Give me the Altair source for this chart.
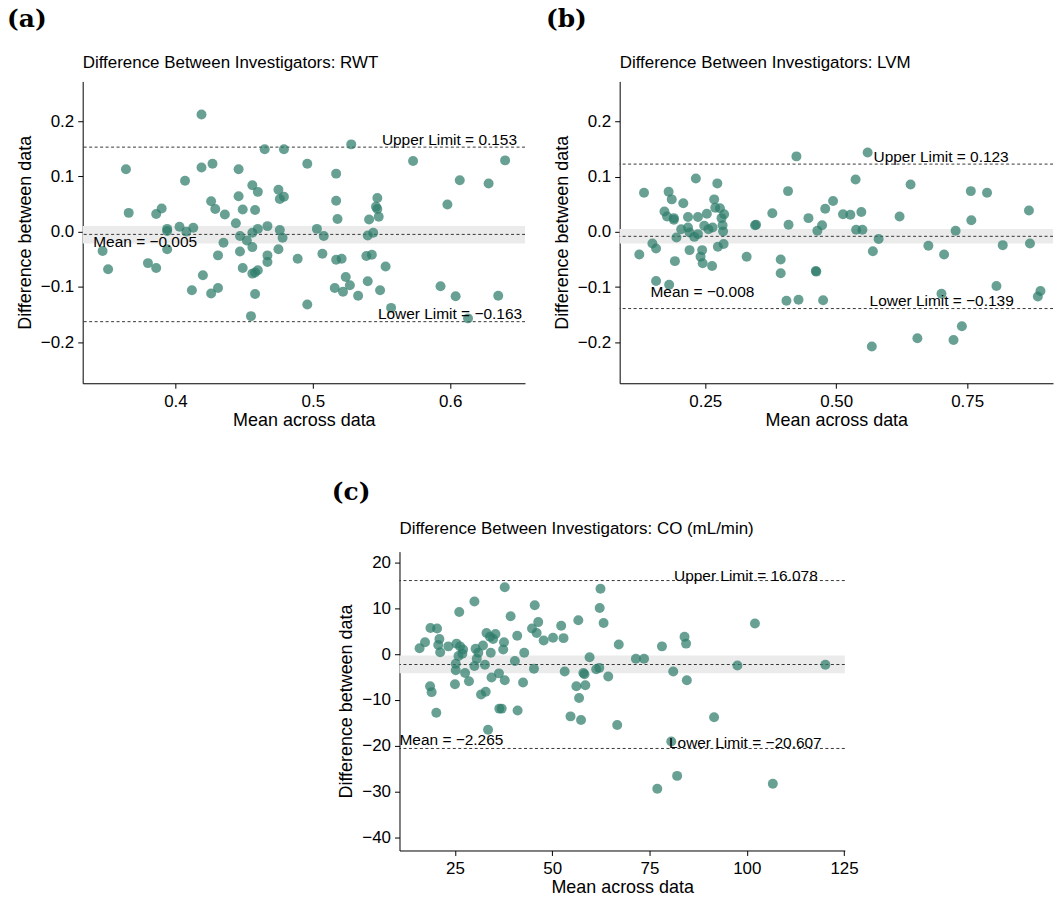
import altair as alt
import pandas as pd

# ---------------- Panel (a): RWT ----------------
a_mean = [0.419,0.465,0.479,0.528,0.573,0.640,0.364,0.419,0.427,0.446,
          0.496,0.517,0.407,0.607,0.628,0.456,0.460,0.475,0.479,0.476,
          0.446,0.426,0.517,0.547,0.598,0.366,0.386,0.390,0.429,0.436,
          0.449,0.458,0.546,0.547,0.548,0.518,0.541,0.444,0.394,0.394,
          0.403,0.413,0.408,0.467,0.460,0.456,0.476,0.478,0.503,0.508,
          0.540,0.544,0.447,0.452,0.435,0.394,0.347,0.351,0.456,0.447,
          0.475,0.431,0.467,0.467,0.489,0.507,0.517,0.521,0.539,0.543,
          0.553,0.380,0.386,0.449,0.456,0.458,0.460,0.420,0.412,0.426,
          0.431,0.458,0.455,0.496,0.524,0.527,0.516,0.522,0.533,0.540,
          0.549,0.557,0.593,0.604,0.613,0.635]
a_diff = [0.212,0.149,0.149,0.158,0.128,0.129,0.113,0.116,0.123,0.113,
          0.123,0.105,0.092,0.093,0.087,0.084,0.072,0.076,0.063,0.059,
          0.064,0.055,0.056,0.061,0.049,0.034,0.032,0.042,0.041,0.031,
          0.040,0.039,0.045,0.041,0.027,0.023,0.022,0.015,0.005,0.001,
          0.009,0.007,0.000,0.010,0.005,-0.002,0.003,-0.011,0.005,-0.008,
          -0.007,-0.002,-0.008,-0.016,-0.020,-0.032,-0.035,-0.068,-0.028,-0.036,
          -0.032,-0.043,-0.043,-0.055,-0.049,-0.040,-0.051,-0.049,-0.044,-0.042,
          -0.063,-0.057,-0.066,-0.066,-0.076,-0.074,-0.070,-0.079,-0.106,-0.112,
          -0.102,-0.113,-0.153,-0.132,-0.082,-0.097,-0.102,-0.109,-0.116,-0.090,
          -0.106,-0.138,-0.099,-0.117,-0.157,-0.116]
a_stats = [-0.005, 0.153, -0.163]          # mean, upper, lower
a_band = [-0.0217, 0.0102]                 # CI of mean
a_labels = ["Upper Limit = 0.153", "Lower Limit = \u22120.163"]
a_label_x = [0.5503, 0.5474]
a_mean_label = "Mean = \u22120.005"
a_mean_label_pos = [0.3402, -0.0271]

# ---------------- Panel (b): LVM ----------------
b_mean = [0.424,0.560,0.133,0.232,0.273,0.180,0.186,0.208,0.267,0.172,
          0.177,0.190,0.190,0.217,0.236,0.253,0.269,0.278,0.286,0.281,
          0.204,0.217,0.220,0.229,0.195,0.236,0.248,0.256,0.264,0.283,
          0.284,0.149,0.156,0.124,0.192,0.220,0.244,0.241,0.245,0.263,
          0.274,0.285,0.156,0.181,0.329,0.347,0.345,0.378,0.408,0.409,
          0.394,0.394,0.405,0.428,0.447,0.464,0.473,0.479,0.494,0.461,
          0.462,0.475,0.513,0.527,0.548,0.537,0.538,0.550,0.581,0.570,
          0.568,0.621,0.642,0.676,0.706,0.701,0.655,0.728,0.724,0.740,
          0.757,0.758,0.788,0.806,0.818,0.868,0.870,0.885,0.890]
b_diff = [0.137,0.144,0.071,0.097,0.088,0.073,0.059,0.052,0.059,0.037,
          0.028,0.025,0.022,0.027,0.027,0.033,0.044,0.043,0.032,0.025,
          0.005,0.008,-0.001,-0.009,-0.010,-0.004,0.011,0.005,0.008,0.012,
          0.001,-0.021,-0.030,-0.041,-0.053,-0.033,-0.033,-0.045,-0.057,-0.062,
          -0.027,-0.022,-0.089,-0.096,-0.045,0.013,0.012,0.034,0.074,0.013,
          -0.050,-0.075,-0.125,-0.123,0.025,0.002,0.012,0.042,0.056,-0.071,
          -0.072,-0.124,0.032,0.031,0.036,0.095,0.004,0.004,-0.013,-0.035,
          -0.208,0.028,0.086,-0.025,-0.041,-0.112,-0.193,0.002,-0.196,-0.171,
          0.074,0.021,0.071,-0.098,-0.024,0.039,-0.021,-0.117,-0.107]
b_stats = [-0.008, 0.123, -0.139]
b_band = [-0.0211, 0.0054]
b_labels = ["Upper Limit = 0.123", "Lower Limit = \u22120.139"]
b_label_x = [0.5713, 0.5637]
b_mean_label = "Mean = \u22120.008"
b_mean_label_pos = [0.1454, -0.1176]

# ---------------- Panel (c): CO ----------------
c_mean = [37.8,62.4,30.0,45.5,62.2,26.1,39.3,56.7,63.2,102.1,
          46.4,52.3,18.7,20.4,44.8,46.0,33.1,35.4,34.0,34.8,
          41.0,50.2,52.9,47.8,84.0,84.4,21.0,17.3,15.9,20.7,
          21.2,23.3,25.4,26.3,27.1,26.9,25.9,30.3,31.0,30.6,
          32.2,37.6,37.4,34.2,32.7,30.0,42.8,40.4,45.3,59.6,
          67.1,78.2,71.5,73.6,97.6,120.2,62.1,61.3,53.2,58.0,
          58.3,64.4,81.1,84.6,25.2,27.6,36.3,34.4,28.6,37.8,
          42.5,25.0,18.6,19.0,31.7,32.9,56.2,58.5,56.9,20.2,
          36.4,37.0,41.1,54.7,57.4,66.7,91.6,33.5,80.6,82.1,
          77.0,106.7,25.2]
c_diff = [14.6,14.3,11.5,10.7,10.1,9.2,8.3,7.4,6.8,6.7,
          7.0,6.2,5.7,5.6,5.6,4.6,4.6,4.4,3.8,3.3,
          4.0,3.6,3.5,3.0,3.8,2.3,3.3,2.6,1.3,2.0,
          0.4,1.7,2.3,1.7,1.0,0.1,-0.4,1.2,0.3,-1.0,
          1.9,2.6,1.0,0.3,-2.3,-2.6,0.3,-1.5,-3.2,-0.7,
          2.1,1.7,-1.0,-1.0,-2.5,-2.3,-3.0,-3.3,-3.8,-4.1,
          -4.4,-4.9,-3.8,-5.7,-3.5,-4.1,-4.2,-5.1,-5.9,-5.7,
          -6.2,-6.6,-7.0,-8.3,-8.8,-8.2,-7.0,-6.8,-9.6,-12.8,
          -11.9,-11.9,-12.3,-13.6,-14.4,-15.5,-13.8,-16.5,-19.1,-26.6,
          -29.4,-28.3,-2.1]
c_stats = [-2.265, 16.078, -20.607]
c_band = [-4.2, -0.29]
c_labels = ["Upper Limit = 16.078", "Lower Limit = \u221220.607"]
c_label_x = [81.3, 80.0]
c_mean_label = "Mean = \u22122.265"
c_mean_label_pos = [10.74, -19.8]

POINT_COLOR = "#2E7D6B"
FONT = "Liberation Sans"


def panel(tag, tag_xy, title, title_gap, mean_v, diff_v, xdom, ydom, xticks, yticks,
          xfmt, yfmt, w, h, stats, band, labels, label_x, lab_dy, mean_label, mean_pos):
    xs = alt.Scale(domain=xdom, nice=False, zero=False)
    ys = alt.Scale(domain=ydom, nice=False, zero=False)
    xax = alt.Axis(title="Mean across data", values=xticks, format=xfmt, labelFlush=False)
    yax = alt.Axis(title="Difference between data", values=yticks, format=yfmt)

    pts = pd.DataFrame({"m": mean_v, "d": diff_v})
    band_df = pd.DataFrame({"lo": [band[0]], "hi": [band[1]]})
    lines_df = pd.DataFrame({"v": stats})
    lab_df = pd.DataFrame({"t": labels, "x": label_x, "y": stats[1:]})
    mlab_df = pd.DataFrame({"t": [mean_label], "x": [mean_pos[0]], "y": [mean_pos[1]]})

    band_layer = alt.Chart(band_df).mark_rect(color="#EBEBEB").encode(
        x=alt.value(0), x2=alt.value(w),
        y=alt.Y("lo:Q", scale=ys, axis=yax), y2="hi:Q")
    line_layer = alt.Chart(lines_df).mark_rule(
        color="#222222", strokeDash=[3, 2.5], strokeWidth=0.9).encode(
        y=alt.Y("v:Q", scale=ys, axis=yax))
    point_layer = alt.Chart(pts).mark_circle(
        size=100, color=POINT_COLOR, opacity=0.72).encode(
        x=alt.X("m:Q", scale=xs, axis=xax),
        y=alt.Y("d:Q", scale=ys, axis=yax))
    lab_layer = alt.Chart(lab_df).mark_text(
        align="left", baseline="alphabetic", dy=lab_dy, font=FONT, fontSize=15.5,
        color="black").encode(
        x=alt.X("x:Q", scale=xs, axis=xax), y=alt.Y("y:Q", scale=ys, axis=yax), text="t:N")
    mlab_layer = alt.Chart(mlab_df).mark_text(
        align="left", baseline="alphabetic", font=FONT, fontSize=15.5,
        color="black").encode(
        x=alt.X("x:Q", scale=xs, axis=xax), y=alt.Y("y:Q", scale=ys, axis=yax), text="t:N")
    title_layer = alt.Chart(pd.DataFrame({"t": [title]})).mark_text(
        align="left", baseline="alphabetic", font=FONT, fontSize=17, color="black").encode(
        x=alt.value(0), y=alt.value(-title_gap), text="t:N")
    tag_layer = alt.Chart(pd.DataFrame({"t": [tag]})).mark_text(
        align="left", baseline="alphabetic", font="DejaVu Serif", fontWeight="bold",
        fontSize=25, color="black").encode(
        x=alt.value(tag_xy[0]), y=alt.value(tag_xy[1]), text="t:N")
    return alt.layer(band_layer, line_layer, point_layer, lab_layer, mlab_layer,
                     title_layer, tag_layer).properties(width=w, height=h)


pa = panel("(a)", (-76, -55), "Difference Between Investigators: RWT", 13,
           a_mean, a_diff, [0.3325, 0.6545], [-0.2745, 0.272],
           [0.4, 0.5, 0.6], [-0.2, -0.1, 0.0, 0.1, 0.2], ".1f", ".1f",
           444, 303, a_stats, a_band, a_labels, a_label_x, -2.5,
           a_mean_label, a_mean_label_pos)
pb = panel("(b)", (-74, -55), "Difference Between Investigators: LVM", 13,
           b_mean, b_diff, [0.0865, 0.914], [-0.2745, 0.273],
           [0.25, 0.5, 0.75], [-0.2, -0.1, 0.0, 0.1, 0.2], ".2f", ".1f",
           435, 303, b_stats, b_band, b_labels, b_label_x, -2.5,
           b_mean_label, b_mean_label_pos)
pc = panel("(c)", (-68, -52), "Difference Between Investigators: CO (mL/min)", 18,
           c_mean, c_diff, [10.74, 125.2], [-42.9, 22.4],
           [25, 50, 75, 100, 125], [-40, -30, -20, -10, 0, 10, 20], "d", "d",
           447, 300, c_stats, c_band, c_labels, c_label_x, 0,
           c_mean_label, c_mean_label_pos)

spacer = alt.Chart(pd.DataFrame({"s": [0]})).mark_rule(opacity=0).encode(
    x=alt.value(0), x2=alt.value(230), y=alt.value(0)).properties(width=230, height=10)

row1 = alt.hconcat(pa, pb, spacing=20)
row2 = alt.hconcat(spacer, pc, spacing=20)

chart = alt.vconcat(row1, row2, spacing=51).properties(
    padding={"left": 7, "top": 5, "right": 5, "bottom": 5},
    background="white"
).configure_view(stroke=None).configure_axis(
    grid=False, domainColor="black", tickColor="black", labelColor="black",
    titleColor="black", labelFont=FONT, titleFont=FONT, labelFontSize=17,
    titleFontSize=18, titleFontWeight="normal", tickSize=5, labelPadding=3,
    domainWidth=1, tickWidth=1
).configure_axisY(labelPadding=4, titlePadding=6).configure_axisX(labelPadding=5, titlePadding=2)

chart.save("out.html", embed_options={"renderer": "svg", "actions": False})
